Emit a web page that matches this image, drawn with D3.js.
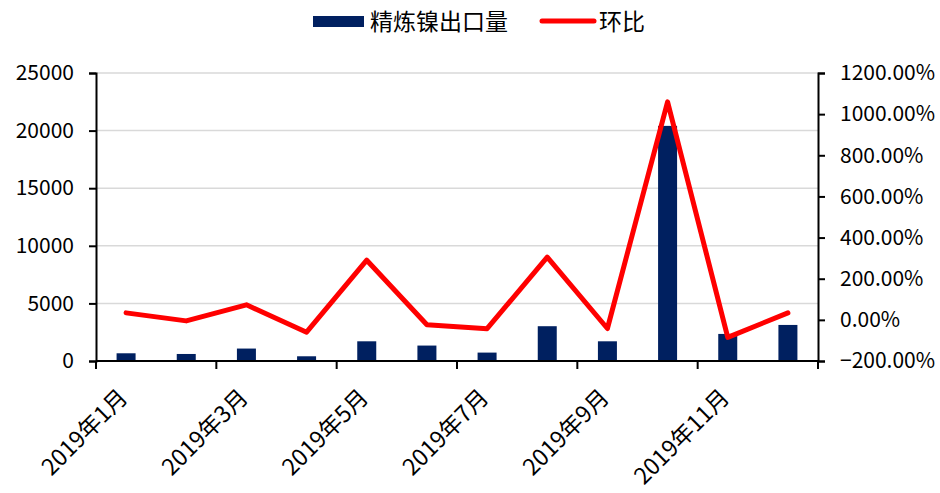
<!DOCTYPE html>
<html>
<head>
<meta charset="utf-8">
<script src="https://cdn.jsdelivr.net/npm/d3@7"></script>
<style>
  body { margin: 0; background: #fff; }
  svg text { font-family: "Noto Sans CJK SC", "Noto Sans", sans-serif; fill: #000; }
</style>
</head>
<body>
<div id="chart"></div>
<script>
// months of 2019
const months = ["2019年1月", "2019年2月", "2019年3月", "2019年4月", "2019年5月", "2019年6月",
    "2019年7月", "2019年8月", "2019年9月", "2019年10月", "2019年11月", "2019年12月"]
// 精炼镍出口量 (吨)
const exportVol = [670, 610, 1080, 410, 1710, 1340, 730, 3020, 1710, 20410, 2350, 3130]
// 环比 (%)
const momPct = [34, -5, 73, -60, 290, -24, -43, 305, -42, 1060, -85, 34]
const leftTicks = [0, 5000, 10000, 15000, 20000, 25000]
const rightTicks = [-200, 0, 200, 400, 600, 800, 1000, 1200]

const width = 940, height = 493
const margin = { top: 73, right: 122, bottom: 132, left: 96 }
const innerW = width - margin.left - margin.right
const innerH = height - margin.top - margin.bottom

const svg = d3.select("#chart").append("svg")
    .attr("width", width)
    .attr("height", height)

const g = svg.append("g")
    .attr("transform", "translate(" + margin.left + "," + margin.top + ")")

const x = d3.scaleBand().domain(months).range([0, innerW]).paddingInner(0).paddingOuter(0)
const yL = d3.scaleLinear().domain([0, 25000]).range([innerH, 0])
const yR = d3.scaleLinear().domain([-200, 1200]).range([innerH, 0])

// gridlines
g.selectAll(".grid").data(leftTicks.slice(1))
    .enter().append("line")
    .attr("x1", 0).attr("x2", innerW)
    .attr("y1", d => yL(d)).attr("y2", d => yL(d))
    .attr("stroke", "#d9d9d9").attr("stroke-width", 1.5)

// bars
const barW = 19
g.selectAll(".bar").data(exportVol)
    .enter().append("rect")
    .attr("x", (d, i) => x(months[i]) + x.bandwidth() / 2 - barW / 2)
    .attr("y", d => yL(d))
    .attr("width", barW)
    .attr("height", d => innerH - yL(d))
    .attr("fill", "#002060")

// line
const line = d3.line()
    .x((d, i) => x(months[i]) + x.bandwidth() / 2)
    .y(d => yR(d))

g.append("path")
    .datum(momPct)
    .attr("d", line)
    .attr("fill", "none")
    .attr("stroke", "#ff0000")
    .attr("stroke-width", 5)
    .attr("stroke-linejoin", "round")
    .attr("stroke-linecap", "round")

// left axis
const axisL = g.append("g")
    .call(d3.axisLeft(yL).tickValues(leftTicks).tickSize(7).tickPadding(15).tickFormat(d3.format("d")))
axisL.select(".domain").attr("stroke", "#000").attr("stroke-width", 2)
axisL.selectAll(".tick line").attr("stroke", "#000").attr("stroke-width", 2)
axisL.selectAll("text").style("font-size", "21px").attr("fill", "#000")

// right axis
const axisR = g.append("g")
    .attr("transform", "translate(" + innerW + ",0)")
    .call(d3.axisRight(yR).tickValues(rightTicks).tickSize(7).tickPadding(15).tickFormat(d => d3.format(".2f")(d) + "%"))
axisR.select(".domain").attr("stroke", "#000").attr("stroke-width", 2)
axisR.selectAll(".tick line").attr("stroke", "#000").attr("stroke-width", 2)
axisR.selectAll("text").style("font-size", "21px").attr("fill", "#000")

// bottom axis: ticks every 2 months at band edges
const axisB = g.append("g").attr("transform", "translate(0," + innerH + ")")
axisB.append("line")
    .attr("x1", 0).attr("x2", innerW)
    .attr("stroke", "#000").attr("stroke-width", 2)
const tickMonths = months.filter((m, i) => i % 2 === 0)
axisB.selectAll(".xtick").data(tickMonths.concat([null]))
    .enter().append("line")
    .attr("x1", d => d ? x(d) : innerW)
    .attr("x2", d => d ? x(d) : innerW)
    .attr("y1", 0).attr("y2", 8)
    .attr("stroke", "#000").attr("stroke-width", 2)
axisB.selectAll(".xlabel").data(tickMonths)
    .enter().append("text")
    .attr("text-anchor", "end")
    .attr("transform", d => "translate(" + (x(d) + x.bandwidth() / 2 + 3) + ",38) rotate(-45)")
    .style("font-size", "23px")
    .text(d => d)

// legend
const legend = svg.append("g")
legend.append("rect")
    .attr("x", 313).attr("y", 16).attr("width", 51).attr("height", 11)
    .attr("fill", "#002060")
legend.append("text")
    .attr("x", 370).attr("y", 30)
    .style("font-size", "23px")
    .text("精炼镍出口量")
legend.append("line")
    .attr("x1", 542).attr("x2", 594).attr("y1", 21).attr("y2", 21)
    .attr("stroke", "#ff0000").attr("stroke-width", 5).attr("stroke-linecap", "round")
legend.append("text")
    .attr("x", 599).attr("y", 30)
    .style("font-size", "23px")
    .text("环比")
</script>
</body>
</html>
